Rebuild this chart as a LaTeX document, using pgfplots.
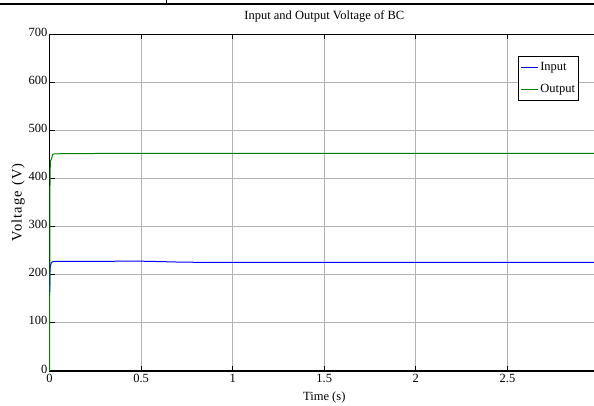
\documentclass[border=0pt]{standalone}
\usepackage{fontspec}
\setmainfont{Liberation Serif}
\usepackage{pgfplots}
\pgfplotsset{compat=1.18}

\definecolor{mblue}{rgb}{0,0,1}
\definecolor{mgreen}{rgb}{0,0.5,0}

\begin{document}
\begin{tikzpicture}
\begin{axis}[
    at={(49.6pt,35pt)}, anchor=south west,
    scale only axis,
    width=549.4pt, height=336.7pt,
    xmin=0, xmax=3,
    ymin=0, ymax=700,
    xtick={0,0.5,1,1.5,2,2.5,3},
    ytick={0,100,...,700},
    xticklabels={0,0.5,1,1.5,2,2.5,},
    grid=major,
    major grid style={gray!60, line width=0.9pt},
    tick align=inside,
    major tick length=5pt,
    tick style={black, line width=0.8pt},
    axis line style={line width=1.3pt},
    font=\fontsize{12.5}{13}\selectfont,
    /pgf/number format/assume math mode=true,
    yticklabel style={inner sep=0pt, xshift=-2pt, yshift=2pt},
    xticklabel style={inner sep=0pt, yshift=-3pt},
    title={Input and Output Voltage of BC},
    title style={at={(0.5,1)}, anchor=base, yshift=9pt},
    xlabel={Time (s)},
    xlabel style={at={(axis description cs:0.5,0)}, anchor=base, yshift=-30pt},
    ylabel={\addfontfeatures{LetterSpace=8}Voltage (V)},
    ylabel style={at={(axis description cs:-0.057,0.5)}, anchor=center, font=\fontsize{14.5}{15}\selectfont},
    legend style={at={(0.9636,0.9347)}, anchor=north east, line width=0.9pt,
        font=\fontsize{12.5}{13}\selectfont, inner xsep=1.5pt, inner ysep=4pt, row sep=8pt,
        cells={anchor=west}},
    legend image code/.code={\draw[#1, line width=1.2pt] (0pt,0pt) -- (17pt,0pt);},
    clip=false,
]
\addplot[color=mblue, line width=1pt] coordinates {
    (0,158) (0.002,205) (0.004,218) (0.008,224) (0.015,227) (0.03,228)
    (0.1,228) (0.2,228) (0.3,228) (0.4,228.3) (0.5,228.3) (0.6,227.5)
    (0.7,226.5) (0.8,226) (1,226) (1.5,226) (2,226) (2.5,226) (3,226)
};
\addlegendentry{Input}
\addplot[color=mgreen, line width=1pt] coordinates {
    (0,0) (0.001,200) (0.002,380) (0.004,436) (0.008,439) (0.012,443)
    (0.016,449) (0.02,451) (0.03,451.5) (0.1,452) (0.5,452.5) (1,452.5)
    (1.5,452.5) (2,452.5) (2.5,452.5) (3,452.5)
};
\addlegendentry{Output}
\end{axis}
\draw[line width=1.3pt] (0,402pt) -- (594pt,402pt);
\draw[line width=1.3pt] (166.7pt,406pt) -- (166.7pt,402pt);
\pgfresetboundingbox
\useasboundingbox (0,0) rectangle (594pt,406pt);
\end{tikzpicture}
\end{document}
